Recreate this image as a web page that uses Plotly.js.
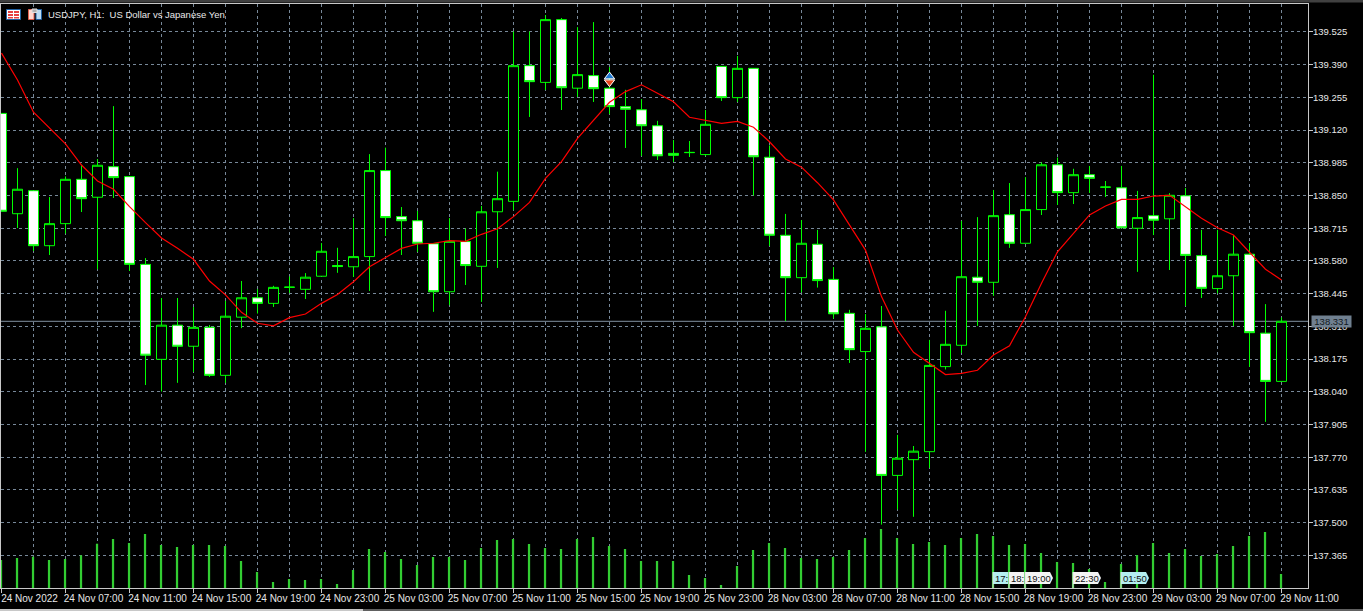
<!DOCTYPE html>
<html>
<head>
<meta charset="utf-8">
<style>html,body{margin:0;padding:0;background:#000;overflow:hidden}#chart{width:1363px;height:611px}</style>
<script src="https://cdn.plot.ly/plotly-3.0.1.min.js"></script>
</head>
<body>
<div id="chart"></div>
<script>
const barIndex = Array.from({length: 81}, (_, i) => i);
const openPrices = [139.189,138.775,138.870,138.643,138.734,138.917,138.843,138.969,138.928,138.566,138.174,138.315,138.228,138.306,138.108,138.348,138.428,138.405,138.471,138.463,138.517,138.561,138.556,138.598,138.953,138.763,138.746,138.651,138.453,138.660,138.558,138.783,138.826,139.386,139.317,139.576,139.293,139.345,139.293,139.217,139.204,139.138,139.024,139.027,139.019,139.383,139.254,139.375,139.008,138.686,138.511,138.649,138.504,138.364,138.206,138.308,137.695,137.760,137.793,138.144,138.232,138.513,138.492,138.771,138.653,138.792,138.977,138.862,138.936,138.884,138.882,138.715,138.767,138.754,138.849,138.602,138.466,138.519,138.608,138.282,138.083];
const highPrices = [139.189,138.962,138.870,138.843,138.928,138.976,139.000,139.218,138.928,138.591,138.427,138.427,138.389,138.315,138.415,138.497,138.463,138.477,138.515,138.529,138.653,138.634,138.756,139.020,139.047,138.802,138.786,138.651,138.756,138.713,138.807,138.948,139.526,139.526,139.595,139.582,139.544,139.565,139.379,139.286,139.247,139.158,139.079,139.075,139.203,139.383,139.426,139.375,139.056,138.774,138.749,138.708,138.554,138.378,138.361,138.394,137.862,137.816,138.254,138.374,138.745,138.760,138.873,138.901,138.925,138.986,139.006,138.960,138.972,138.910,138.972,138.869,139.348,138.859,138.881,138.708,138.708,138.687,138.653,138.401,138.346];
const lowPrices = [138.785,138.716,138.621,138.605,138.694,138.782,138.546,138.840,138.539,138.068,138.042,138.078,138.123,138.102,138.078,138.303,138.364,138.391,138.449,138.423,138.517,138.532,138.515,138.457,138.683,138.605,138.618,138.371,138.398,138.481,138.412,138.552,138.790,139.175,139.286,139.203,139.258,139.237,139.187,139.047,139.014,138.997,138.990,139.009,139.013,139.241,139.237,138.851,138.643,138.332,138.451,138.471,138.343,138.160,137.793,137.493,137.555,137.525,137.727,138.133,138.201,138.313,138.437,138.635,138.653,138.770,138.811,138.815,138.861,138.844,138.717,138.536,138.687,138.543,138.395,138.428,138.447,138.312,138.144,137.917,138.083];
const closePrices = [138.785,138.876,138.643,138.734,138.917,138.837,138.975,138.924,138.566,138.191,138.315,138.228,138.306,138.108,138.352,138.428,138.405,138.471,138.472,138.513,138.620,138.557,138.598,138.953,138.759,138.746,138.653,138.453,138.661,138.561,138.783,138.837,139.386,139.320,139.576,139.295,139.349,139.291,139.217,139.206,139.138,139.014,139.016,139.028,139.144,139.254,139.375,139.010,138.686,138.511,138.653,138.499,138.362,138.214,138.302,137.695,137.766,137.795,138.149,138.236,138.515,138.492,138.767,138.653,138.792,138.977,138.862,138.936,138.921,138.885,138.717,138.759,138.748,138.851,138.603,138.467,138.519,138.608,138.284,138.083,138.331];
const movingAverage = [139.438,139.327,139.194,139.128,139.063,138.976,138.910,138.876,138.804,138.738,138.675,138.632,138.587,138.497,138.440,138.368,138.323,138.312,138.346,138.361,138.405,138.442,138.494,138.556,138.595,138.632,138.650,138.653,138.664,138.661,138.690,138.713,138.763,138.822,138.921,138.990,139.086,139.159,139.235,139.279,139.307,139.272,139.237,139.173,139.159,139.148,139.156,139.132,139.072,139.001,138.967,138.903,138.832,138.728,138.625,138.433,138.295,138.203,138.158,138.111,138.116,138.129,138.192,138.230,138.350,138.488,138.618,138.694,138.770,138.807,138.834,138.834,138.848,138.851,138.804,138.756,138.717,138.687,138.616,138.546,138.501];
const tickVolume = [1120,1200,1252,1120,1160,1308,1772,1960,1800,2160,1720,1640,1720,1720,1680,1080,640,240,360,320,360,160,720,1560,1440,1160,920,1240,1240,1120,1600,1920,1960,1760,1600,1560,1960,2040,1680,1560,1080,1080,1080,520,400,120,880,1520,1800,1600,1200,1160,1240,1520,2000,2360,2000,1760,1840,1720,2000,2160,2080,1720,1760,1400,1040,1000,760,240,960,1320,1800,1400,1560,1280,1360,1680,2080,2240,560];
const priceTicks = [139.525,139.390,139.255,139.120,138.985,138.850,138.715,138.580,138.445,138.310,138.175,138.040,137.905,137.770,137.635,137.500,137.365];
const priceTickText = priceTicks.map(v => v.toFixed(3));
const timeTickIndex = [0,4,8,12,16,20,24,28,32,36,40,44,48,52,56,60,64,68,72,76,80];
const timeTickText = ['24 Nov 2022','24 Nov 07:00','24 Nov 11:00','24 Nov 15:00','24 Nov 19:00','24 Nov 23:00','25 Nov 03:00','25 Nov 07:00','25 Nov 11:00','25 Nov 15:00','25 Nov 19:00','25 Nov 23:00','28 Nov 03:00','28 Nov 07:00','28 Nov 11:00','28 Nov 15:00','28 Nov 19:00','28 Nov 23:00','29 Nov 03:00','29 Nov 07:00','29 Nov 11:00'];
const gridIndex = barIndex.filter(i => i > 0 && i % 2 === 0);
const lastPrice = 138.331;
const dealIndex = [38];
const dealBuyPrice = [139.341];
const dealSellPrice = [139.318];
const chartTitle = 'USDJPY, H1:\u00a0 US Dollar vs Japanese Yen';
const sessionLabels = ['17:','18:','19:00','22:30','01:50'];
const sessionLeft = [993,1009,1025,1073,1121];
const sessionRight = [1008,1024,1050,1098,1146];
const sessionTip = [false,false,true,true,true];
const sessionFill = ['#b4eef0','#f4f4f4','#f4f4f4','#f4f4f4','#b4eef0'];

const FONT = '"Liberation Sans",Arial,sans-serif';
const W = 1363, H = 611, L = 1, R = 1308, T = 4, B = 588;
const fx = px => (px - L) / (R - L);
const fy = py => (B - py) / (B - T);
const rect = (x0, y0, x1, y1, fill, line) => ({type:'rect', xref:'paper', yref:'paper', layer:'above',
  x0:fx(x0), x1:fx(x1), y0:fy(y0), y1:fy(y1), fillcolor:fill, line:{color:line || fill, width: line ? 1 : 0}});

// wicks redrawn from the same OHLC arrays, outside the bodies only
const wickX = [], wickY = [];
barIndex.forEach(i => {
  const top = Math.max(openPrices[i], closePrices[i]), bottom = Math.min(openPrices[i], closePrices[i]);
  wickX.push(i, i, null, i, i, null);
  wickY.push(highPrices[i], top, null, bottom, lowPrices[i], null);
});

const traces = [
  {type:'bar', x:barIndex, y:tickVolume, yaxis:'y2', width:0.14, offset:-0.1,
   marker:{color:'#32cd32', line:{width:0}}, hoverinfo:'skip', showlegend:false},
  {type:'candlestick', x:barIndex, open:openPrices, high:highPrices, low:lowPrices, close:closePrices,
   increasing:{line:{color:'#00ff00', width:1}, fillcolor:'#000000'},
   decreasing:{line:{color:'#00ff00', width:1}, fillcolor:'#ffffff'},
   whiskerwidth:0, hoverinfo:'skip', showlegend:false},
  {type:'scatter', mode:'lines', x:wickX, y:wickY, connectgaps:false, line:{color:'#00ff00', width:1},
   hoverinfo:'skip', showlegend:false},
  {type:'scatter', mode:'lines', x:barIndex, y:movingAverage, line:{color:'#ff0000', width:1.2},
   hoverinfo:'skip', showlegend:false},
  {type:'scatter', mode:'markers', x:dealIndex, y:dealBuyPrice,
   marker:{symbol:'triangle-up', size:9, color:'#1e78d2', line:{color:'#ffffff', width:1}}, hoverinfo:'skip', showlegend:false},
  {type:'scatter', mode:'markers', x:dealIndex, y:dealSellPrice,
   marker:{symbol:'triangle-down', size:9, color:'#e8481e', line:{color:'#ffffff', width:1}}, hoverinfo:'skip', showlegend:false}
];

const shapes = [
  {type:'line', xref:'paper', yref:'y', layer:'below', x0:0, x1:1, y0:lastPrice, y1:lastPrice, line:{color:'#8090a0', width:1}},
  rect(0, 0, W, 2.5, '#404040'),
  rect(0, 609, W, 611, '#606060'),
  rect(0, 609, 363, 611, '#c8c8c8'),
  rect(6.5, 9.5, 20.5, 19.5, '#ffffff', '#2060a0'),
  rect(8, 11, 13, 13, '#e84040'), rect(14, 11, 19, 13, '#e84040'),
  rect(8, 14, 13, 16, '#e84040'), rect(14, 14, 19, 16, '#e84040'),
  rect(8, 17, 13, 18.5, '#e84040'), rect(14, 17, 19, 18.5, '#e84040'),
  rect(28.5, 9.5, 34, 19.5, '#ffd8d0', '#e06050'),
  rect(36, 9.5, 41.5, 19.5, '#bcdcf4', '#2060a0'),
  rect(32, 9, 37, 12.5, '#b0b0b0', '#e0e0e0')
];
sessionLabels.forEach((s, k) => {
  const l = sessionLeft[k], r = sessionRight[k], t = 572, b = 584;
  const p = sessionTip[k]
    ? `M ${fx(l)} ${fy(t)} L ${fx(r)} ${fy(t)} L ${fx(r + 3)} ${fy((t + b) / 2)} L ${fx(r)} ${fy(b)} L ${fx(l)} ${fy(b)} Z`
    : `M ${fx(l)} ${fy(t)} L ${fx(r)} ${fy(t)} L ${fx(r)} ${fy(b)} L ${fx(l)} ${fy(b)} Z`;
  shapes.push({type:'path', xref:'paper', yref:'paper', layer:'above', path:p, fillcolor:sessionFill[k], line:{width:0}});
  shapes.push({type:'line', xref:'paper', yref:'paper', layer:'above', x0:fx(l), x1:fx(l), y0:fy(572), y1:fy(588), line:{color:'#e0e0e0', width:1}});
});

const annotations = [
  {xref:'paper', yref:'y', x:1, y:lastPrice, xanchor:'left', yanchor:'middle', xshift:3, showarrow:false,
   text:lastPrice.toFixed(3), bgcolor:'#708090', borderpad:0, width:39, height:11, align:'center',
   font:{family:FONT, size:9.5, color:'#101820'}}
];
sessionLabels.forEach((s, k) => {
  annotations.push({xref:'paper', yref:'paper', x:fx(sessionLeft[k] + 1), y:fy(578), xanchor:'left', yanchor:'middle',
    showarrow:false, text:s, borderpad:0, font:{family:FONT, size:9.5, color:'#101010'}});
});

const axisLine = '#c8c8c8', gridCol = '#778899';
const layout = {
  width:W, height:H, autosize:false, showlegend:false, dragmode:false,
  paper_bgcolor:'#000000', plot_bgcolor:'#000000',
  margin:{l:L, r:W - R, t:T, b:H - B, pad:0},
  barmode:'overlay', boxgap:0.375, boxgroupgap:0,
  title:{text:chartTitle, x:48 / W, xanchor:'left', xref:'container', y:1 - 15 / H, yanchor:'middle', yref:'container',
    font:{family:FONT, size:9.5, color:'#e8e8e8'}},
  xaxis:{type:'linear', range:[-0.03125, 81.65625], rangeslider:{visible:false}, fixedrange:true, zeroline:false,
    tickmode:'array', tickvals:timeTickIndex, ticktext:timeTickText, tickangle:0, ticklabelshift:28, ticklabelstandoff:-3,
    ticks:'outside', ticklen:4, tickwidth:1, tickcolor:axisLine,
    showgrid:true, gridcolor:gridCol, gridwidth:1, griddash:'3px,3px',
    minor:{tickmode:'array', tickvals:gridIndex, showgrid:true, gridcolor:gridCol, gridwidth:1, griddash:'3px,3px', ticks:''},
    showline:true, linecolor:axisLine, linewidth:1, mirror:true,
    tickfont:{family:FONT, size:10, color:'#e8e8e8'}},
  yaxis:{type:'linear', side:'right', range:[137.2303, 139.6405], fixedrange:true, zeroline:false,
    tickmode:'array', tickvals:priceTicks, ticktext:priceTickText, ticklabelstandoff:-2,
    ticks:'outside', ticklen:4, tickwidth:1, tickcolor:axisLine,
    showgrid:true, gridcolor:gridCol, gridwidth:1, griddash:'3px,3px',
    showline:true, linecolor:axisLine, linewidth:1, mirror:true,
    tickfont:{family:FONT, size:9.5, color:'#e8e8e8'}},
  yaxis2:{overlaying:'y', side:'left', range:[0, 23360], visible:false, fixedrange:true},
  shapes:shapes, annotations:annotations
};
Plotly.newPlot('chart', traces, layout, {displayModeBar:false, staticPlot:true});
</script>
</body>
</html>
